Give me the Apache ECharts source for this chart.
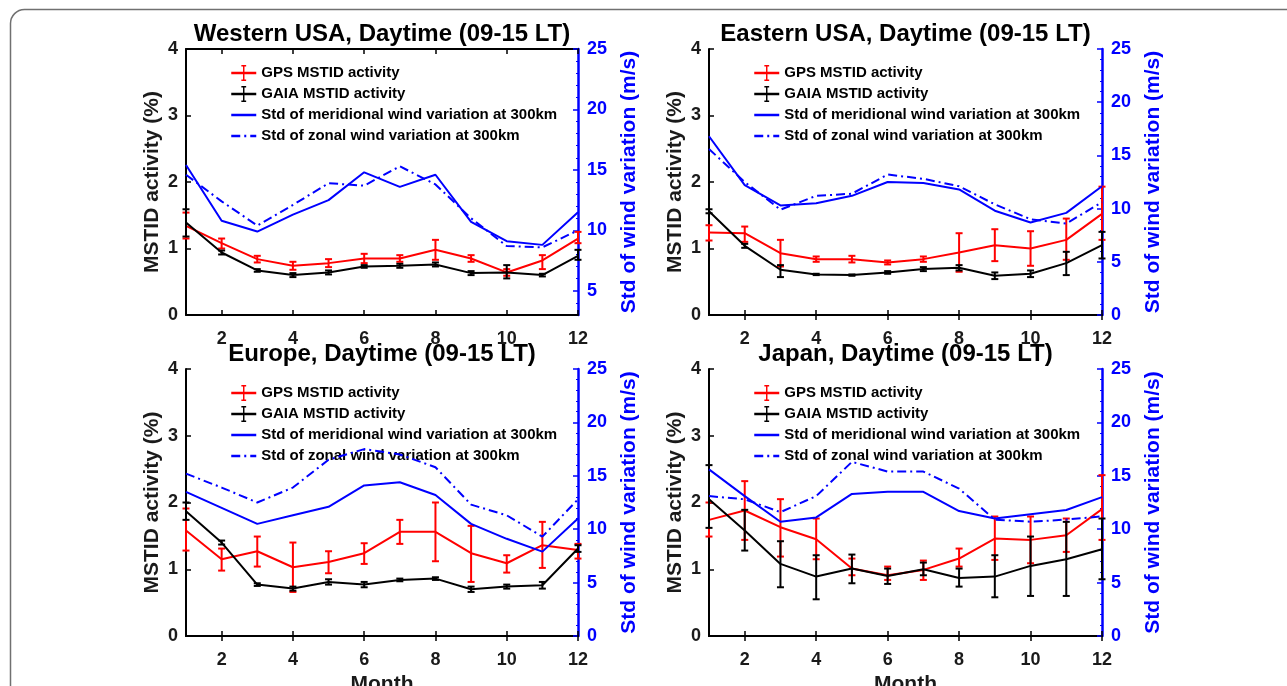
<!DOCTYPE html>
<html>
<head>
<meta charset="utf-8">
<script src="https://cdn.jsdelivr.net/npm/echarts@6/dist/echarts.min.js"></script>
<style>
html,body{margin:0;padding:0;background:#fff;}
#chart{width:1287px;height:686px;}
</style>
</head>
<body>
<div id="chart"></div>
<script>
// ---------- data ----------
const months = ['1','2','3','4','5','6','7','8','9','10','11','12'];
const titles = ['Western USA, Daytime (09-15 LT)', 'Eastern USA, Daytime (09-15 LT)', 'Europe, Daytime (09-15 LT)', 'Japan, Daytime (09-15 LT)'];
const legendNames = ['GPS MSTID activity', 'GAIA MSTID activity', 'Std of meridional wind variation at 300km', 'Std of zonal wind variation at 300km'];
const leftTicks = [0, 1, 2, 3, 4];
const rightTicks = [0, 5, 10, 15, 20, 25];

// Western USA
const westGps    = [1.34,1.08,0.84,0.74,0.78,0.85,0.85,0.98,0.85,0.64,0.82,1.15];
const westGpsLo  = [1.15,1.00,0.79,0.68,0.72,0.78,0.80,0.83,0.80,0.59,0.69,1.08];
const westGpsHi  = [1.54,1.15,0.89,0.80,0.84,0.92,0.90,1.13,0.90,0.69,0.90,1.25];
const westGaia   = [1.39,0.94,0.67,0.60,0.64,0.73,0.74,0.76,0.63,0.64,0.60,0.89];
const westGaiaLo = [1.18,0.91,0.65,0.57,0.61,0.71,0.71,0.73,0.60,0.55,0.58,0.83];
const westGaiaHi = [1.59,0.97,0.69,0.63,0.67,0.75,0.77,0.79,0.66,0.75,0.62,0.98];
const westMer    = [15.4,10.8,9.9,11.3,12.5,14.8,13.6,14.6,10.7,9.1,8.8,11.5];
const westZon    = [14.6,12.4,10.4,12.1,13.9,13.7,15.3,13.8,11.0,8.7,8.6,10.0];

// Eastern USA
const eastGps    = [1.24,1.23,0.93,0.84,0.84,0.79,0.84,0.94,1.05,1.00,1.13,1.52];
const eastGpsLo  = [1.12,1.10,0.73,0.80,0.79,0.76,0.80,0.65,0.81,0.74,0.83,1.13];
const eastGpsHi  = [1.35,1.33,1.13,0.88,0.89,0.82,0.88,1.23,1.29,1.26,1.45,1.93];
const eastGaia   = [1.56,1.04,0.68,0.61,0.60,0.64,0.69,0.71,0.59,0.62,0.78,1.05];
const eastGaiaLo = [1.53,1.01,0.57,0.60,0.59,0.62,0.66,0.67,0.54,0.57,0.60,0.85];
const eastGaiaHi = [1.59,1.07,0.75,0.62,0.61,0.66,0.72,0.75,0.64,0.67,0.95,1.25];
const eastMer    = [16.8,12.2,10.3,10.5,11.2,12.5,12.4,11.8,9.8,8.7,9.6,12.1];
const eastZon    = [15.6,12.5,9.9,11.2,11.4,13.2,12.8,12.1,10.4,9.0,8.6,10.6];

// Europe
const euGps    = [1.58,1.15,1.27,1.03,1.11,1.24,1.56,1.56,1.24,1.09,1.36,1.29];
const euGpsLo  = [1.28,0.98,1.04,0.66,0.94,1.08,1.38,1.12,0.81,0.95,1.02,1.16];
const euGpsHi  = [1.91,1.31,1.49,1.40,1.27,1.39,1.74,2.00,1.65,1.21,1.71,1.38];
const euGaia   = [1.87,1.40,0.77,0.71,0.81,0.77,0.84,0.86,0.70,0.74,0.76,1.31];
const euGaiaLo = [1.74,1.37,0.75,0.68,0.77,0.73,0.82,0.84,0.66,0.71,0.71,1.26];
const euGaiaHi = [2.00,1.43,0.79,0.74,0.85,0.81,0.86,0.88,0.74,0.77,0.81,1.36];
const euMer    = [13.5,12.0,10.5,11.3,12.1,14.1,14.4,13.2,10.5,9.1,7.9,11.0];
const euZon    = [15.2,13.9,12.5,13.9,16.5,17.5,17.0,15.8,12.3,11.3,9.3,12.8];

// Japan
const jpGps    = [1.74,1.88,1.63,1.45,1.01,0.91,0.99,1.16,1.46,1.44,1.51,1.90];
const jpGpsLo  = [1.49,1.44,1.19,1.15,0.91,0.84,0.84,1.04,1.14,1.09,1.26,1.44];
const jpGpsHi  = [2.00,2.32,2.05,1.76,1.16,1.04,1.13,1.31,1.79,1.79,1.76,2.41];
const jpGaia   = [2.05,1.58,1.08,0.89,1.01,0.90,1.00,0.87,0.89,1.05,1.15,1.30];
const jpGaiaLo = [1.62,1.28,0.73,0.55,0.79,0.78,0.91,0.74,0.58,0.60,0.60,0.85];
const jpGaiaHi = [2.56,1.89,1.42,1.21,1.22,1.01,1.10,1.01,1.21,1.49,1.71,1.76];
const jpMer    = [15.6,13.1,10.7,11.1,13.3,13.5,13.5,11.7,11.0,11.4,11.8,13.0];
const jpZon    = [13.1,12.8,11.6,13.1,16.3,15.4,15.4,13.8,10.9,10.7,10.9,11.2];

// ---------- layout / style ----------
const FONT = '"Liberation Sans", Arial, Helvetica, sans-serif';
const RED = '#ff0000', BLACK = '#000000', BLUE = '#0000ff';

const panels = [
  {d:[westGps,westGpsLo,westGpsHi,westGaia,westGaiaLo,westGaiaHi,westMer,westZon], left:186, top:49, width:392, height:266, rmin:3, month:false},
  {d:[eastGps,eastGpsLo,eastGpsHi,eastGaia,eastGaiaLo,eastGaiaHi,eastMer,eastZon], left:709, top:49, width:393, height:266, rmin:0, month:false},
  {d:[euGps,euGpsLo,euGpsHi,euGaia,euGaiaLo,euGaiaHi,euMer,euZon], left:186, top:369, width:392, height:267, rmin:0, month:true},
  {d:[jpGps,jpGpsLo,jpGpsHi,jpGaia,jpGaiaLo,jpGaiaHi,jpMer,jpZon], left:709, top:369, width:393, height:267, rmin:0, month:true}
];

const errIcon = 'path://M0,10L20,10M7,0H13V1.8H10.9V18.2H13V20H7V18.2H9.1V1.8H7Z';

function errRender(color) {
  return function (params, api) {
    const x = api.value(0);
    const lo = api.coord([x, api.value(1)]);
    const hi = api.coord([x, api.value(2)]);
    const w = 3.5;
    const style = {stroke: color, lineWidth: 2, fill: null};
    return {type: 'group', children: [
      {type: 'line', shape: {x1: lo[0], y1: lo[1], x2: hi[0], y2: hi[1]}, style: style},
      {type: 'line', shape: {x1: lo[0] - w, y1: lo[1], x2: lo[0] + w, y2: lo[1]}, style: style},
      {type: 'line', shape: {x1: hi[0] - w, y1: hi[1], x2: hi[0] + w, y2: hi[1]}, style: style}
    ]};
  };
}

const evenIdx = function (idx) { return idx % 2 === 1; };

const grid = [], xAxis = [], yAxis = [], series = [], legend = [], graphic = [];

graphic.push({type: 'rect', z: -10, silent: true,
  shape: {x: 10.5, y: 9.5, width: 1400, height: 800, r: 14},
  style: {fill: 'none', stroke: '#707070', lineWidth: 1.5}});

panels.forEach(function (p, i) {
  grid.push({left: p.left, top: p.top, width: p.width, height: p.height, containLabel: false, show: false,
    outerBoundsMode: 'none'});
  // bottom x axis
  xAxis.push({
    type: 'category', gridIndex: i, data: months, boundaryGap: false, position: 'bottom',
    axisLine: {show: true, lineStyle: {color: BLACK, width: 2}},
    axisTick: {show: true, inside: true, length: 5, interval: evenIdx, lineStyle: {color: BLACK, width: 1.5}},
    axisLabel: {show: true, interval: evenIdx, margin: 15, color: '#1a1a1a', fontSize: 18, fontWeight: 'bold', fontFamily: FONT},
    splitLine: {show: false},
    name: p.month ? 'Month' : '', nameLocation: 'middle', nameGap: 38,
    nameTextStyle: {fontSize: 21, fontWeight: 'bold', color: '#1a1a1a', fontFamily: FONT}
  });
  // top x axis (box)
  xAxis.push({
    type: 'category', gridIndex: i, data: months, boundaryGap: false, position: 'top',
    axisLine: {show: true, lineStyle: {color: BLACK, width: 2}},
    axisTick: {show: true, inside: true, length: 5, interval: evenIdx, lineStyle: {color: BLACK, width: 1.5}},
    axisLabel: {show: false}, splitLine: {show: false}
  });
  // left y axis
  yAxis.push({
    type: 'value', gridIndex: i, position: 'left', min: 0, max: 4, interval: 1,
    axisLine: {show: true, lineStyle: {color: BLACK, width: 2}},
    axisTick: {show: true, inside: true, length: 5, lineStyle: {color: BLACK, width: 1.5}},
    axisLabel: {show: true, margin: 8, color: '#1a1a1a', fontSize: 18, fontWeight: 'bold', fontFamily: FONT,
      customValues: leftTicks},
    splitLine: {show: false},
    name: 'MSTID activity (%)', nameLocation: 'middle', nameRotate: 90, nameGap: 23,
    nameTextStyle: {fontSize: 21, fontWeight: 'bold', color: '#1a1a1a', fontFamily: FONT}
  });
  // right y axis
  const rv = rightTicks.filter(function (v) { return v >= p.rmin; });
  yAxis.push({
    type: 'value', gridIndex: i, position: 'right', min: p.rmin, max: 25,
    axisLine: {show: true, lineStyle: {color: BLUE, width: 2.5}},
    axisTick: {show: true, inside: true, length: 5, lineStyle: {color: BLUE, width: 1.5}, customValues: rv},
    minorTick: {show: true, splitNumber: 5, length: 2, lineStyle: {color: BLUE, width: 1}},
    axisLabel: {show: true, margin: 9, color: BLUE, fontSize: 18, fontWeight: 'bold', fontFamily: FONT, customValues: rv},
    splitLine: {show: false},
    name: 'Std of wind variation (m/s)', nameLocation: 'middle', nameRotate: 90, nameGap: 41,
    nameTextStyle: {fontSize: 21, fontWeight: 'bold', color: BLUE, fontFamily: FONT}
  });

  const xi = 2 * i, yl = 2 * i, yr = 2 * i + 1;
  const d = p.d;
  const errData = function (lo, hi) { return months.map(function (m, k) { return [k, lo[k], hi[k]]; }); };

  series.push({
    type: 'line', name: legendNames[0], xAxisIndex: xi, yAxisIndex: yl, data: d[0],
    symbol: errIcon, showSymbol: false, silent: true, z: 3,
    lineStyle: {color: RED, width: 2}, itemStyle: {color: RED}, emphasis: {disabled: true}
  });
  series.push({
    type: 'custom', name: 'gpsErr' + i, xAxisIndex: xi, yAxisIndex: yl, silent: true, z: 3,
    data: errData(d[1], d[2]), renderItem: errRender(RED), encode: {x: 0, y: [1, 2]}
  });
  series.push({
    type: 'line', name: legendNames[1], xAxisIndex: xi, yAxisIndex: yl, data: d[3],
    symbol: errIcon, showSymbol: false, silent: true, z: 4,
    lineStyle: {color: BLACK, width: 2}, itemStyle: {color: BLACK}, emphasis: {disabled: true}
  });
  series.push({
    type: 'custom', name: 'gaiaErr' + i, xAxisIndex: xi, yAxisIndex: yl, silent: true, z: 4,
    data: errData(d[4], d[5]), renderItem: errRender(BLACK), encode: {x: 0, y: [1, 2]}
  });
  series.push({
    type: 'line', name: legendNames[2], xAxisIndex: xi, yAxisIndex: yr, data: d[6],
    symbol: errIcon, showSymbol: false, silent: true, z: 5,
    lineStyle: {color: BLUE, width: 2}, itemStyle: {color: BLUE}, emphasis: {disabled: true}
  });
  series.push({
    type: 'line', name: legendNames[3], xAxisIndex: xi, yAxisIndex: yr, data: d[7],
    symbol: errIcon, showSymbol: false, silent: true, z: 5,
    lineStyle: {color: BLUE, width: 2, type: [9, 4, 2, 4]}, itemStyle: {color: BLUE}, emphasis: {disabled: true}
  });

  legend.push({
    show: true, orient: 'vertical', left: p.left + 44, top: p.top + 16,
    itemWidth: 25, itemHeight: 20, itemGap: 5, selectedMode: false, padding: 0,
    backgroundColor: 'transparent',
    lineStyle: {width: 2.5},
    textStyle: {fontSize: 15, fontWeight: 'bold', color: '#000', fontFamily: FONT},
    data: [
      {name: legendNames[0]},
      {name: legendNames[1]},
      {name: legendNames[2], itemStyle: {opacity: 0}},
      {name: legendNames[3], itemStyle: {opacity: 0}}
    ]
  });

  graphic.push({type: 'text', z: 100, silent: true,
    x: p.left + p.width / 2, y: p.top - 14.5,
    style: {text: titles[i], fontSize: 24, fontWeight: 'bold', fill: '#000', align: 'center', verticalAlign: 'middle', fontFamily: FONT}});
});

const chart = echarts.init(document.getElementById('chart'), null, {renderer: 'canvas'});
chart.setOption({
  backgroundColor: '#ffffff',
  animation: false,
  tooltip: {show: false},
  grid: grid, xAxis: xAxis, yAxis: yAxis, series: series, legend: legend, graphic: graphic
});
</script>
</body>
</html>
